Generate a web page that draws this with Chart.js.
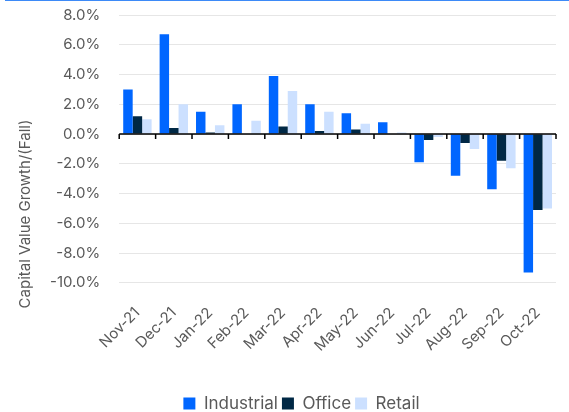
<!DOCTYPE html>
<html>
<head>
<meta charset="utf-8">
<script src="https://cdn.jsdelivr.net/npm/chart.js@4"></script>
<style>
  html, body { margin: 0; padding: 0; background: #fff; }
  #wrap { position: relative; width: 569px; height: 412px; }
  #topline { position: absolute; left: 5px; right: 0; top: 0; height: 1px; background: #3d8af7; }
  canvas { display: block; }
</style>
</head>
<body>
<div id="wrap">
  <div id="topline"></div>
  <canvas id="chart" width="569" height="412"></canvas>
</div>
<script>
const months = ["Nov-21","Dec-21","Jan-22","Feb-22","Mar-22","Apr-22","May-22","Jun-22","Jul-22","Aug-22","Sep-22","Oct-22"];
const industrial = [3.0, 6.7, 1.5, 2.0, 3.9, 2.0, 1.4, 0.8, -1.9, -2.8, -3.7, -9.3];
const office     = [1.2, 0.4, 0.1, 0.0, 0.5, 0.2, 0.3, 0.0, -0.4, -0.6, -1.8, -5.1];
const retail     = [1.0, 2.0, 0.6, 0.9, 2.9, 1.5, 0.7, 0.1, -0.2, -1.0, -2.3, -5.0];

const FONT = "Inter, 'Noto Sans', sans-serif";
const GREY = "#595959";

/* y axis title, centred lower like the original */
const axisTitle = {
    id: "axisTitle",
    afterDraw(chart) {
        const ctx = chart.ctx;
        ctx.save();
        ctx.translate(25, 214);
        ctx.rotate(-Math.PI / 2);
        ctx.font = "15px " + FONT;
        ctx.fillStyle = GREY;
        ctx.textAlign = "center";
        ctx.textBaseline = "middle";
        ctx.fillText("Capital Value Growth/(Fall)", 0, 0);
        ctx.restore();
    }
};

/* small ticks under the zero line at category edges */
const zeroTicks = {
    id: "zeroTicks",
    afterDatasetsDraw(chart) {
        const { ctx, scales: { x, y } } = chart;
        const y0 = y.getPixelForValue(0);
        const half = (x.getPixelForTick(1) - x.getPixelForTick(0)) / 2;
        ctx.save();
        ctx.strokeStyle = "#000";
        ctx.lineWidth = 1.5;
        ctx.beginPath();
        ctx.moveTo(x.left, y0);
        ctx.lineTo(x.right, y0);
        for (let i = 0; i < months.length; i++) {
            const px = x.getPixelForTick(i) - half;
            ctx.moveTo(px, y0);
            ctx.lineTo(px, y0 + 5);
        }
        ctx.moveTo(x.right, y0);
        ctx.lineTo(x.right, y0 + 5);
        ctx.stroke();
        ctx.restore();
    }
};

new Chart(document.getElementById("chart"), {
    type: "bar",
    data: {
        labels: months,
        datasets: [
            { label: "Industrial", data: industrial, backgroundColor: "#0066ff" },
            { label: "Office", data: office, backgroundColor: "#002845" },
            { label: "Retail", data: retail, backgroundColor: "#cce0ff" }
        ]
    },
    options: {
        responsive: false,
        animation: false,
        categoryPercentage: 0.78,
        barPercentage: 1.0,
        layout: { padding: { left: 47, right: 13, top: 15, bottom: -10 } },
        plugins: {
            legend: {
                position: "bottom",
                labels: {
                    boxWidth: 12, boxHeight: 12, padding: 4,
                    color: GREY, font: { family: FONT, size: 17 }
                }
            },
            tooltip: { enabled: false }
        },
        scales: {
            x: {
                grid: { display: false },
                border: { display: false },
                ticks: {
                    color: GREY, font: { family: FONT, size: 15 },
                    maxRotation: 45, minRotation: 45, padding: 13
                },
                afterFit: s => { s.height += 23; }
            },
            y: {
                min: -10, max: 8,
                ticks: {
                    stepSize: 2, color: GREY, padding: 3,
                    font: { family: FONT, size: 15 },
                    callback: v => v.toFixed(1) + "%"
                },
                grid: { color: "#e6e6e6", tickLength: 16, tickColor: "transparent" },
                border: { display: false }
            }
        }
    },
    plugins: [axisTitle, zeroTicks]
});
</script>
</body>
</html>
